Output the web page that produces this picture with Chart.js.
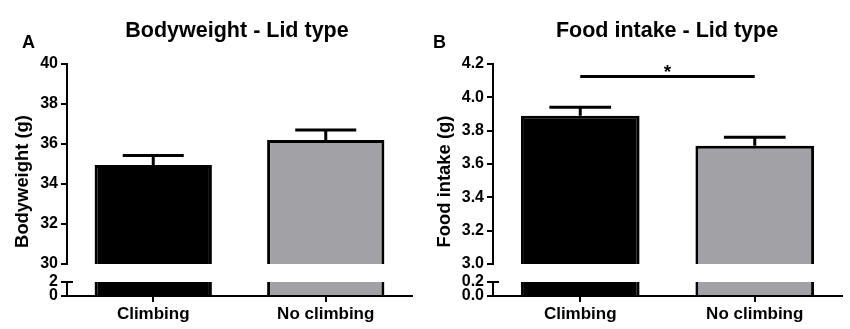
<!DOCTYPE html>
<html><head><meta charset="utf-8">
<script src="https://cdn.jsdelivr.net/npm/chart.js@4.4.1/dist/chart.umd.min.js"></script>
<style>
html,body{margin:0;padding:0;background:#fff;}
#wrap{position:relative;width:850px;height:329px;overflow:hidden;background:#fff}
canvas{position:absolute;top:0}
</style></head><body>
<div id="wrap">
<canvas id="cA" width="420" height="329" style="left:0"></canvas>
<canvas id="cB" width="430" height="329" style="left:420px"></canvas>
</div>
<script>
// ---- data ----
const categories = ['Climbing', 'No climbing'];
const bodyweightMean = [34.95, 36.2];
const bodyweightSEM = [0.48, 0.5];
const foodIntakeMean = [3.89, 3.71];
const foodIntakeSEM = [0.05, 0.05];
const bodyweightTicksUpper = [30, 32, 34, 36, 38, 40];
const bodyweightTicksLower = [0, 2];
const foodTicksUpper = [3.0, 3.2, 3.4, 3.6, 3.8, 4.0, 4.2];
const foodTicksLower = [0.0, 0.2];
const foodSignificance = { from: 0, to: 1, level: 4.125, label: '*' };
const barColors = ['#000000', '#a2a2a6'];

const FONT = '"Liberation Sans", Arial, Helvetica, sans-serif';
Chart.defaults.font.family = FONT;

function makePanel(id, cfg) {
  const up = cfg.upper, lo = cfg.lower;
  const fmt = v => Number(v).toFixed(cfg.decimals);
  const tickFont = { family: FONT, size: 16, weight: 'bold' };
  const yGrid = { display: true, drawOnChartArea: false, drawTicks: true, tickLength: 6, lineWidth: 2, color: '#000' };
  const setW = s => { s.width = cfg.axisLeft; };

  const panelPlugin = {
    id: 'panel_' + id,
    beforeDatasetDraw(chart, args) {
      const ys = args.meta.yScale;
      const ctx = chart.ctx;
      ctx.save();
      ctx.beginPath();
      ctx.rect(0, ys.top, chart.width, ys.bottom - ys.top);
      ctx.clip();
    },
    afterDatasetDraw(chart) { chart.ctx.restore(); },
    afterDraw(chart) {
      const ctx = chart.ctx;
      const x = chart.scales.x, yT = chart.scales.yTop, yB = chart.scales.yBot;
      const area = chart.chartArea;
      ctx.save();
      ctx.strokeStyle = '#000';
      ctx.fillStyle = '#000';
      // error bars
      const meta = chart.getDatasetMeta(0);
      ctx.lineWidth = 3;
      ctx.lineCap = 'butt';
      cfg.mean.forEach((m, i) => {
        const px = x.getPixelForValue(i);
        const bw = meta.data[i].width;
        const y0 = yT.getPixelForValue(m);
        const y1 = yT.getPixelForValue(m + cfg.sem[i]);
        ctx.beginPath();
        ctx.moveTo(px, y0); ctx.lineTo(px, y1);
        ctx.moveTo(px - bw * 0.26, y1); ctx.lineTo(px + bw * 0.26, y1);
        ctx.stroke();
      });
      // axis break mark
      ctx.lineWidth = 2;
      ctx.beginPath();
      ctx.moveTo(area.left, Math.round(yB.top) ); ctx.lineTo(area.left + 6, Math.round(yB.top));
      ctx.stroke();
      // significance
      if (cfg.sig) {
        const s = cfg.sig;
        const xa = x.getPixelForValue(s.from), xb = x.getPixelForValue(s.to);
        const yy = yT.getPixelForValue(s.level);
        ctx.lineWidth = 3;
        ctx.beginPath(); ctx.moveTo(xa, yy); ctx.lineTo(xb, yy); ctx.stroke();
        ctx.font = 'bold 19px ' + FONT;
        ctx.textAlign = 'center'; ctx.textBaseline = 'alphabetic';
        ctx.fillText(s.label, (xa + xb) / 2, yy + 1);
      }
      // title
      ctx.font = 'bold 21.5px ' + FONT;
      ctx.textAlign = 'center'; ctx.textBaseline = 'alphabetic';
      ctx.fillText(cfg.title, cfg.titleX, 37);
      // panel letter
      ctx.font = 'bold 18px ' + FONT;
      ctx.textAlign = 'left';
      ctx.fillText(cfg.letter, cfg.letterX, 48);
      // y title
      ctx.save();
      ctx.translate(cfg.yTitleX, 181.5);
      ctx.rotate(-Math.PI / 2);
      ctx.font = 'bold 18.4px ' + FONT;
      ctx.textAlign = 'center';
      ctx.fillText(cfg.yTitle, 0, 0);
      ctx.restore();
      ctx.restore();
    }
  };

  const ds = (axis) => ({
    data: cfg.mean,
    yAxisID: axis,
    backgroundColor: barColors,
    borderColor: '#000',
    borderWidth: 3,
    borderSkipped: 'start',
    grouped: false,
    categoryPercentage: 1,
    barPercentage: 0.68
  });

  return new Chart(document.getElementById(id), {
    type: 'bar',
    data: { labels: categories, datasets: [ds('yTop'), ds('yBot')] },
    options: {
      responsive: false,
      animation: false,
      devicePixelRatio: 1,
      layout: { padding: { left: 0, right: cfg.rightPad, top: 64, bottom: 0 } },
      plugins: { legend: { display: false }, tooltip: { enabled: false }, title: { display: false } },
      scales: {
        x: {
          type: 'category', offset: true,
          grid: { display: true, drawOnChartArea: false, offset: false, tickLength: 6, lineWidth: 2, color: '#000' },
          border: { display: true, color: '#000', width: 2 },
          ticks: { font: { family: FONT, size: 17, weight: 'bold' }, color: '#000', padding: 2, maxRotation: 0, autoSkip: false },
          afterFit: s => { s.height = 33; }
        },
        yTop: {
          type: 'linear', position: 'left', stack: 'y', stackWeight: 200, weight: 3,
          min: up[0], max: up[up.length - 1],
          afterBuildTicks: s => { s.ticks = up.map(v => ({ value: v })); },
          ticks: { callback: v => fmt(v), font: tickFont, color: '#000', padding: 3, autoSkip: false },
          grid: yGrid,
          border: { display: true, color: '#000', width: 2 },
          afterFit: setW
        },
        yGap: {
          type: 'linear', position: 'left', stack: 'y', stackWeight: 18, weight: 2,
          min: 0, max: 1,
          ticks: { display: false }, grid: { display: false }, border: { display: false },
          afterFit: setW
        },
        yBot: {
          type: 'linear', position: 'left', stack: 'y', stackWeight: 14, weight: 1,
          min: lo[0], max: lo[lo.length - 1],
          afterBuildTicks: s => { s.ticks = lo.map(v => ({ value: v })); },
          ticks: { callback: v => fmt(v), font: tickFont, color: '#000', padding: 3, autoSkip: false },
          grid: yGrid,
          border: { display: true, color: '#000', width: 2 },
          afterFit: setW
        }
      }
    },
    plugins: [panelPlugin]
  });
}

makePanel('cA', {
  mean: bodyweightMean, sem: bodyweightSEM, upper: bodyweightTicksUpper, lower: bodyweightTicksLower,
  decimals: 0, axisLeft: 67, rightPad: 8, title: 'Bodyweight - Lid type', titleX: 237,
  letter: 'A', letterX: 22, yTitle: 'Bodyweight (g)', yTitleX: 28, sig: null
});
makePanel('cB', {
  mean: foodIntakeMean, sem: foodIntakeSEM, upper: foodTicksUpper, lower: foodTicksLower,
  decimals: 1, axisLeft: 73, rightPad: 8, title: 'Food intake - Lid type', titleX: 247,
  letter: 'B', letterX: 13, yTitle: 'Food intake (g)', yTitleX: 30, sig: foodSignificance
});
</script>
</body></html>
